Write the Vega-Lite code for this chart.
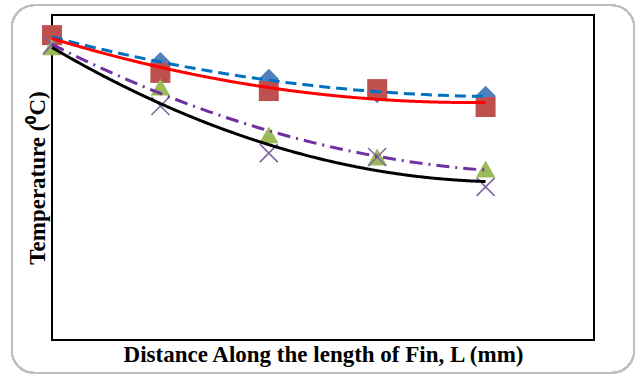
{
  "$schema": "https://vega.github.io/schema/vega-lite/v6.json",
  "width": 542,
  "height": 325,
  "autosize": "none",
  "padding": {"left": 52, "top": 15, "right": 41, "bottom": 36},
  "background": "#ffffff",
  "config": {
    "view": {"stroke": "#000000", "strokeWidth": 2},
    "font": "Liberation Serif",
    "axis": {"grid": false, "labels": false, "ticks": false, "domain": false,
             "titleFont": "Liberation Serif", "titleFontWeight": "bold", "titleFontSize": 23, "titleColor": "#000000"},
    "axisX": {"titlePadding": 3},
    "axisY": {"titlePadding": 3}
  },
  "data": {
    "values": [
      {"series": "D", "x": 0, "value": 93.2},
      {"series": "D", "x": 1, "value": 85.5},
      {"series": "D", "x": 2, "value": 80.3},
      {"series": "D", "x": 3, "value": 76.0},
      {"series": "D", "x": 4, "value": 75.1},
      {"series": "S", "x": 0, "value": 93.8},
      {"series": "S", "x": 1, "value": 82.2},
      {"series": "S", "x": 2, "value": 76.6},
      {"series": "S", "x": 3, "value": 77.2},
      {"series": "S", "x": 4, "value": 71.7},
      {"series": "T", "x": 0, "value": 90.2},
      {"series": "T", "x": 1, "value": 77.8},
      {"series": "T", "x": 2, "value": 63.1},
      {"series": "T", "x": 3, "value": 56.3},
      {"series": "T", "x": 4, "value": 52.6},
      {"series": "X", "x": 0, "value": 90.8},
      {"series": "X", "x": 1, "value": 72.0},
      {"series": "X", "x": 2, "value": 57.5},
      {"series": "X", "x": 3, "value": 56.3},
      {"series": "X", "x": 4, "value": 47.1}
    ]
  },
  "layer": [
    {
      "mark": {"type": "rect", "filled": false, "color": "#BFBFBF", "strokeWidth": 1.5, "cornerRadius": 22},
      "encoding": {
        "x": {"datum": -0.37, "type": "quantitative", "scale": {"domain": [0, 5], "nice": false}, "title": "Distance Along the length of Fin, L (mm)"},
        "x2": {"datum": 5.37},
        "y": {"datum": -10.1, "type": "quantitative", "scale": {"domain": [0, 100], "nice": false}, "title": "Temperature (⁰C)"},
        "y2": {"datum": 103.0}
      }
    },
    {
      "transform": [{"filter": "datum.series !== 'X'"}],
      "mark": {"type": "point", "filled": true, "opacity": 1},
      "encoding": {
        "x": {"field": "x", "type": "quantitative", "scale": {"domain": [0, 5], "nice": false}, "title": "Distance Along the length of Fin, L (mm)"},
        "y": {"field": "value", "type": "quantitative", "scale": {"domain": [0, 100], "nice": false}, "title": "Temperature (⁰C)"},
        "shape": {"field": "series", "type": "nominal", "legend": null,
                  "scale": {"domain": ["D", "S", "T"], "range": ["diamond", "square", "triangle-up"]}},
        "color": {"field": "series", "type": "nominal", "legend": null,
                  "scale": {"domain": ["D", "S", "T"], "range": ["#4F81BD", "#C0504D", "#9BBB59"]}},
        "size": {"field": "series", "type": "nominal", "legend": null,
                 "scale": {"domain": ["D", "S", "T"], "range": [420, 380, 400]}}
      }
    },
    {
      "transform": [{"filter": "datum.series === 'X'"}],
      "mark": {"type": "point", "filled": false, "shape": "M-1,-1L1,1M-1,1L1,-1", "size": 324, "color": "#8064A2", "strokeWidth": 1.6, "opacity": 1},
      "encoding": {
        "x": {"field": "x", "type": "quantitative", "title": "Distance Along the length of Fin, L (mm)"},
        "y": {"field": "value", "type": "quantitative", "title": "Temperature (⁰C)"}
      }
    },
    {
      "transform": [{"regression": "value", "on": "x", "groupby": ["series"], "method": "poly", "order": 2}],
      "mark": {"type": "line"},
      "encoding": {
        "x": {"field": "x", "type": "quantitative", "title": "Distance Along the length of Fin, L (mm)"},
        "y": {"field": "value", "type": "quantitative", "title": "Temperature (⁰C)"},
        "color": {"field": "series", "type": "nominal", "legend": null,
                  "scale": {"domain": ["D", "S", "T", "X"], "range": ["#0070C0", "#FF0000", "#7030A0", "#000000"]}},
        "strokeDash": {"field": "series", "type": "nominal", "legend": null,
                       "scale": {"domain": ["D", "S", "T", "X"], "range": [[11, 6], [1, 0], [13, 6, 2, 6], [1, 0]]}},
        "strokeWidth": {"field": "series", "type": "nominal", "legend": null,
                        "scale": {"domain": ["D", "S", "T", "X"], "range": [3, 3, 3, 2.5]}}
      }
    }
  ],
  "resolve": {"scale": {"color": "independent", "shape": "independent", "size": "independent"}}
}
